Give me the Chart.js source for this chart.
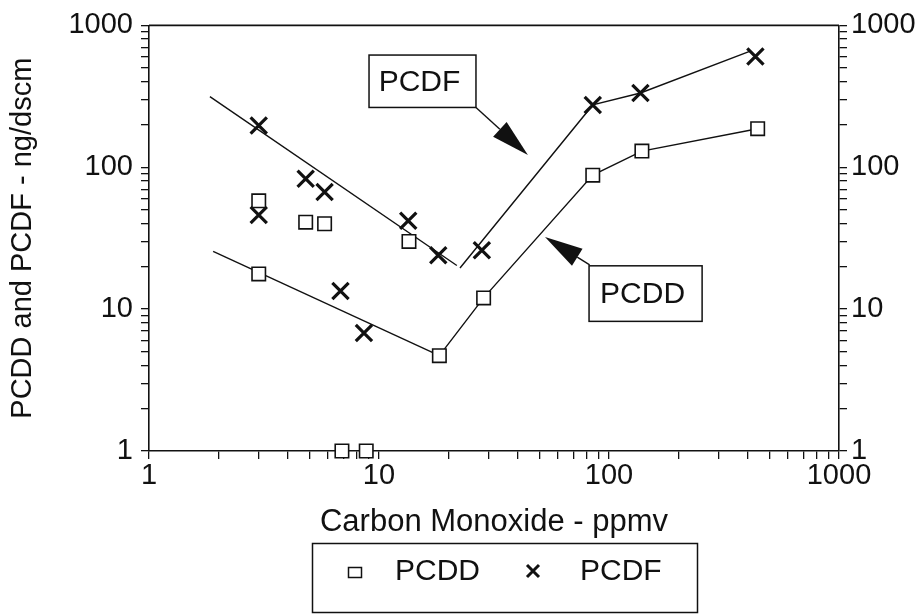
<!DOCTYPE html>
<html>
<head>
<meta charset="utf-8">
<script src="https://cdn.jsdelivr.net/npm/chart.js@4.4.1/dist/chart.umd.min.js"></script>
<style>
  html, body { margin: 0; padding: 0; background: #fff; }
  #wrap { width: 924px; height: 614px; }
</style>
</head>
<body>
<div id="wrap"><canvas id="coChart" width="924" height="614"></canvas></div>
<script>
const pcddX = [3, 3, 4.8, 5.8, 6.9, 8.8, 13.5, 18.3, 28.5, 85, 139, 443];
const pcddY = [58, 17.7, 41, 40, 1, 1, 30, 4.7, 12, 88, 130, 187];
const pcdfX = [3, 3, 4.8, 5.8, 6.8, 8.6, 13.4, 18.1, 28, 85, 137, 433];
const pcdfY = [197, 46, 83, 67, 13.4, 6.8, 42, 24, 26, 275, 334, 603];

// hand drawn trend lines
const pcddLowX = [1.9, 18.3];
const pcddLowY = [25.5, 4.7];
const pcddHighX = [18.3, 28.5, 85, 139, 443];
const pcddHighY = [4.7, 12, 88, 130, 187];
const pcdfLowX = [1.84, 21.8];
const pcdfLowY = [315, 20.3];
const pcdfHighX = [22.5, 85, 137, 414];
const pcdfHighY = [19.5, 275, 334, 661];

const tickLabels = [1, 10, 100, 1000];

const INK = '#111';
const FONT = '"Liberation Sans", Arial, Helvetica, sans-serif';

// minor ticks 1..9 in every decade
const tickValues = [];
tickLabels.slice(0, -1).forEach(d => {
    for (let m = 1; m < 10; m++) tickValues.push(m * d);
});
tickValues.push(tickLabels[tickLabels.length - 1]);

const toPoints = (xs, ys) => xs.map((x, i) => ({ x: x, y: ys[i] }));

// label boxes with arrows, in data units
const notes = [
    { text: 'PCDF', box: [9.05, 618, 26.4, 264], tail: [26.4, 264], tip: [44.4, 122] },
    { text: 'PCDD', box: [81.9, 20.2, 254, 8.2], tail: [82.4, 20.5], tip: [52.7, 32.2] }
];

const logAxis = (pos, pad) => ({
    type: 'logarithmic',
    position: pos,
    min: 1,
    max: 1000,
    afterBuildTicks: s => { s.ticks = tickValues.map(v => ({ value: v })); },
    ticks: {
        autoSkip: false,
        maxRotation: 0,
        minRotation: 0,
        color: INK,
        padding: pad,
        font: { family: FONT, size: 29 },
        callback: v => tickLabels.includes(v) ? String(v) : ''
    },
    grid: { drawOnChartArea: false, drawTicks: true, tickLength: 8, color: INK, lineWidth: 1.3 },
    border: { display: true, color: INK, width: 1.6 }
});

const lineSet = (label, xs, ys) => ({
    label: label,
    data: toPoints(xs, ys),
    showLine: true,
    borderColor: INK,
    borderWidth: 1.4,
    pointRadius: 0,
    fill: false,
    clip: false
});

const framePlugin = {
    id: 'frame',
    afterDraw(chart) {
        const { ctx, chartArea } = chart;
        ctx.save();
        ctx.strokeStyle = INK;
        ctx.lineWidth = 1.6;
        ctx.beginPath();
        ctx.moveTo(chartArea.left, chartArea.top);
        ctx.lineTo(chartArea.right, chartArea.top);
        ctx.stroke();
        ctx.restore();
    }
};

const notesPlugin = {
    id: 'notes',
    afterDraw(chart) {
        const { ctx } = chart;
        const sx = chart.scales.x, sy = chart.scales.y;
        const px = (p) => [sx.getPixelForValue(p[0]), sy.getPixelForValue(p[1])];
        ctx.save();
        ctx.strokeStyle = INK;
        ctx.fillStyle = INK;
        notes.forEach(n => {
            const [x1, y1] = px([n.box[0], n.box[1]]);
            const [x2, y2] = px([n.box[2], n.box[3]]);
            ctx.lineWidth = 1.5;
            ctx.strokeRect(x1, y1, x2 - x1, y2 - y1);
            ctx.font = '30px ' + FONT;
            ctx.textAlign = 'center';
            ctx.textBaseline = 'middle';
            ctx.fillText(n.text, (x1 + x2) / 2 - 3, (y1 + y2) / 2 + 1);

            const [tx, ty] = px(n.tail);
            const [hx, hy] = px(n.tip);
            const len = Math.hypot(hx - tx, hy - ty);
            const ux = (hx - tx) / len, uy = (hy - ty) / len;
            const headLen = 38, half = 10;
            const bx = hx - ux * headLen, by = hy - uy * headLen;
            ctx.lineWidth = 1.4;
            ctx.beginPath();
            ctx.moveTo(tx, ty);
            ctx.lineTo(bx, by);
            ctx.stroke();
            ctx.beginPath();
            ctx.moveTo(hx, hy);
            ctx.lineTo(bx - uy * half, by + ux * half);
            ctx.lineTo(bx + uy * half, by - ux * half);
            ctx.closePath();
            ctx.fill();
        });
        ctx.restore();
    }
};

const keyPlugin = {
    id: 'key',
    afterDraw(chart) {
        const { ctx } = chart;
        ctx.save();
        ctx.strokeStyle = INK;
        ctx.fillStyle = INK;
        ctx.lineWidth = 1.5;
        ctx.strokeRect(312.5, 543.5, 385, 69);

        ctx.strokeRect(348.5, 567.5, 13, 10);
        ctx.lineWidth = 3;
        ctx.beginPath();
        ctx.moveTo(527, 565); ctx.lineTo(539, 577);
        ctx.moveTo(539, 565); ctx.lineTo(527, 577);
        ctx.stroke();

        ctx.font = '30px ' + FONT;
        ctx.textAlign = 'left';
        ctx.textBaseline = 'middle';
        ctx.fillText(chart.data.datasets[0].label, 395, 572);
        ctx.fillText(chart.data.datasets[1].label, 580, 572);
        ctx.restore();
    }
};

const yAxis = logAxis('left', 8);
yAxis.afterFit = s => { s.width = 149; };
yAxis.title = {
    display: true,
    text: 'PCDD and PCDF - ng/dscm',
    color: INK,
    font: { family: FONT, size: 29 },
    padding: { top: 6, bottom: 0 }
};

const y2Axis = logAxis('right', 4);
y2Axis.afterFit = s => { s.width = 85; };

const xAxis = logAxis('bottom', 0);
xAxis.afterFit = s => { s.height = 93; };
xAxis.title = {
    display: true,
    text: 'Carbon Monoxide - ppmv',
    color: INK,
    font: { family: FONT, size: 31 },
    padding: { top: 0, bottom: 3 }
};

new Chart(document.getElementById('coChart'), {
    type: 'scatter',
    data: {
        datasets: [
            {
                label: 'PCDD',
                data: toPoints(pcddX, pcddY),
                pointStyle: 'rect',
                pointRadius: 9.5,
                pointBackgroundColor: '#fff',
                pointBorderColor: INK,
                pointBorderWidth: 1.6,
                clip: false
            },
            {
                label: 'PCDF',
                data: toPoints(pcdfX, pcdfY),
                pointStyle: 'crossRot',
                pointRadius: 11.5,
                pointBorderColor: INK,
                pointBorderWidth: 3.2,
                clip: false
            },
            lineSet('PCDD fit low', pcddLowX, pcddLowY),
            lineSet('PCDD fit high', pcddHighX, pcddHighY),
            lineSet('PCDF fit low', pcdfLowX, pcdfLowY),
            lineSet('PCDF fit high', pcdfHighX, pcdfHighY)
        ]
    },
    options: {
        responsive: false,
        animation: false,
        layout: { padding: { top: 21, bottom: 70, left: 0, right: 0 } },
        plugins: {
            legend: { display: false },
            tooltip: { enabled: false }
        },
        scales: {
            x: xAxis,
            y: yAxis,
            y2: y2Axis
        }
    },
    plugins: [framePlugin, notesPlugin, keyPlugin]
});
</script>
</body>
</html>
